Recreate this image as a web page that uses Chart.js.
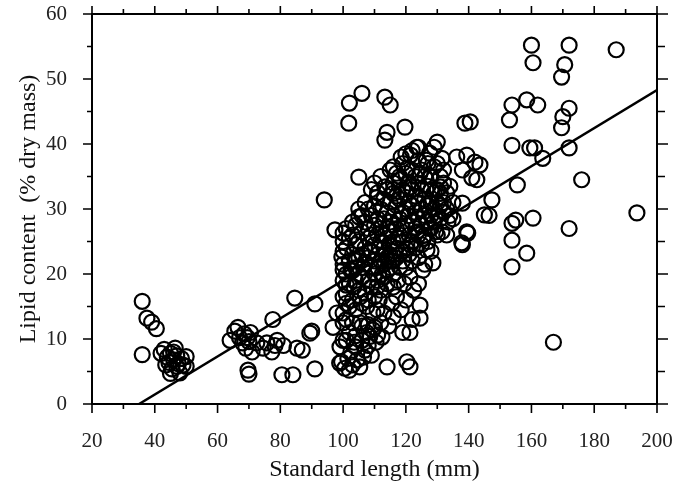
<!DOCTYPE html>
<html>
<head>
<meta charset="utf-8">
<script src="https://cdn.jsdelivr.net/npm/chart.js@4.4.1/dist/chart.umd.min.js"></script>
<style>
  html, body { margin: 0; padding: 0; background: #fff; }
</style>
</head>
<body>
<canvas id="chart" width="682" height="497"></canvas>
<script>
// Fish [standard length (mm), lipid content (% dry mass)]
const smallFish = [
  [36, 15.8], [37.5, 13.2], [39, 12.6], [40.5, 11.6], [36, 7.6], [42, 7.8],
  [43, 8.4], [44, 7.2], [44.5, 6.4], [45, 7.8], [45.5, 5.4], [46, 6.8],
  [46.5, 8.6], [47, 7.4], [47.5, 6.2], [48, 4.8], [48.5, 7.0], [49, 6.0],
  [50, 7.3], [50, 5.8], [43.5, 6.0], [45, 4.7], [46, 8.0], [47, 5.8]
];

const midFish = [
  [64, 9.8], [65.5, 11.2], [66.5, 11.8], [67, 10.2], [68, 9.4], [68.5, 10.8],
  [69, 8.6], [69.5, 10.2], [70, 9.6], [70.5, 11], [71, 8], [69.7, 5.2],
  [70, 4.6], [72.5, 9.4], [74.5, 8.6], [75.7, 9.4], [77.3, 8], [77.6, 13],
  [78.3, 9], [79, 9.8], [80.5, 4.5], [81, 9], [84, 4.5], [84.6, 16.3],
  [85.3, 8.6], [87, 8.3], [89.4, 10.9], [90, 11.2], [91, 15.4], [91, 5.4],
  [94, 31.4], [96.8, 11.8], [98, 14]
];

const clusterUpper = [
  [101.8, 43.2], [102, 46.3], [106, 47.8], [113.3, 47.2], [115, 46], [114, 41.8],
  [113.3, 40.6], [119.7, 42.6], [105, 34.9], [115, 36], [123.5, 39.5], [130, 40.3],
  [121.5, 38.3], [120.5, 36.3], [127.6, 38.6], [136.2, 38], [138.8, 43.2], [140.5, 43.4],
  [113.3, 33.4], [131.5, 37.8], [132, 36], [124.5, 35.5], [127.6, 35], [121.5, 33.4],
  [116, 33], [111, 32.5], [118, 34.5], [131, 33.4], [138, 36], [139.4, 38.3],
  [142, 37.2], [143.6, 36.8], [142.6, 34.5], [110.8, 31.8], [116, 32.4], [131, 32.4],
  [133.4, 28], [138, 30.9], [137.8, 24.8], [139.4, 26.5], [126.7, 23.7], [128.6, 21.7],
  [125.4, 20.6], [121.3, 19.5], [116, 18], [110.8, 18], [105, 28.8], [100, 26.3],
  [99.6, 22.6], [100, 20.6], [101, 18.3], [97.4, 26.8]
];

const clusterLower = [
  [101, 15.5], [101, 9.8], [98.9, 6.3], [102, 5.2], [105.3, 5.7], [107, 8.3],
  [112.4, 10.3], [109.5, 11.4], [114, 5.7], [120.3, 6.5], [121.3, 5.7], [121.3, 11],
  [119, 11], [124.5, 15.2], [124.5, 13.2], [122, 13], [116, 13.4], [110.8, 14.5],
  [105.3, 12.5], [100, 12.5], [99, 8.8], [104, 8.8], [100, 9.8], [106, 9.8],
  [107.5, 11], [108.5, 10.4], [110, 11.8], [111, 10.6], [108, 12.2], [103, 6],
  [99.5, 6.5], [100.5, 5.5], [101.5, 7], [102.5, 8], [103.5, 9.5], [104.5, 6.8],
  [106.5, 7.2], [108, 9], [109, 7.5], [110.5, 9.5], [112, 12.5], [113, 14],
  [114.5, 12], [115.5, 15.5], [117, 16.5], [118.5, 14.5], [120, 16], [122.5, 17.5],
  [124, 18.5], [119.5, 18.5], [117.5, 19], [111.5, 16], [109.5, 14], [107.5, 15],
  [105.5, 16.5], [103.5, 18]
];

const clusterCore = [
  [100, 23.5], [100, 25], [100, 16.5], [100, 14], [100, 21.5], [100, 19],
  [101, 24], [101, 27], [101, 20], [101, 17], [101, 13],
  [102, 22], [102, 25.5], [102, 18.5], [102, 15], [102, 11],
  [103, 23], [103, 26], [103, 20.5], [103, 16], [103, 12.5], [103, 28],
  [104, 21], [104, 24.5], [104, 19], [104, 14.5], [104, 27.5], [104, 10.5],
  [105, 22.5], [105, 25], [105, 17.5], [105, 30], [105, 20],
  [106, 23], [106, 26.5], [106, 19.5], [106, 15.5], [106, 29], [106, 12],
  [107, 21.5], [107, 24], [107, 28], [107, 17], [107, 31],
  [108, 22.5], [108, 25.5], [108, 19], [108, 27], [108, 16], [108, 30],
  [109, 23.5], [109, 21], [109, 26], [109, 29], [109, 18], [109, 33],
  [110, 22], [110, 24.5], [110, 27.5], [110, 20], [110, 30.5], [110, 16.5], [110, 34],
  [111, 23], [111, 26], [111, 28.5], [111, 21], [111, 19],
  [112, 22], [112, 25], [112, 27], [112, 30], [112, 17.5], [112, 35],
  [113, 24], [113, 21.5], [113, 28.5], [113, 31.5], [113, 26], [113, 19.5],
  [114, 22.5], [114, 25.5], [114, 29.5], [114, 33], [114, 20.5], [114, 27],
  [115, 23], [115, 26.5], [115, 31], [115, 21], [115, 28], [115, 24.5],
  [116, 22], [116, 25], [116, 29], [116, 34], [116, 27.5], [116, 20], [116, 36.5],
  [117, 24], [117, 27], [117, 30.5], [117, 22.5], [117, 32],
  [118, 23], [118, 26], [118, 28.5], [118, 31.5], [118, 21], [118, 35],
  [119, 25], [119, 29.5], [119, 33], [119, 27], [119, 22], [119, 37],
  [120, 24], [120, 27.5], [120, 30], [120, 32.5], [120, 21], [120, 35.5], [120, 38.5],
  [121, 26], [121, 29], [121, 23], [121, 31], [121, 34],
  [122, 25], [122, 28], [122, 30.5], [122, 33], [122, 22], [122, 36], [122, 39],
  [123, 27], [123, 29.5], [123, 24], [123, 32], [123, 35],
  [124, 26], [124, 28.5], [124, 31], [124, 22.5], [124, 34], [124, 37.5],
  [125, 27.5], [125, 30], [125, 24.5], [125, 33], [125, 36],
  [126, 26], [126, 29], [126, 31.5], [126, 21.5], [126, 35],
  [127, 28], [127, 30.5], [127, 25], [127, 33.5], [127, 37],
  [128, 27], [128, 31], [128, 29], [128, 35], [128, 23.5],
  [129, 30], [129, 32.5], [129, 28], [129, 36.5], [129, 39.5],
  [130, 29], [130, 33], [130, 31], [130, 26], [130, 37],
  [131, 30.5], [131, 28.5], [131, 35], [132, 31], [132, 29.5], [132, 34],
  [133, 32.5], [133, 30], [134, 29], [134, 33.5], [135, 31], [135, 28.5],
  [102.5, 20.5], [104, 22], [106.5, 21], [108.5, 23.5], [111.5, 24], [113.5, 23],
  [115.5, 22], [117.5, 25.5], [112.5, 20], [114, 18.5], [116.5, 23.5], [119, 23.5],
  [121.5, 24.5], [123.5, 26.5], [125.5, 25.5], [127.5, 27], [129.5, 26.5], [131.5, 26.5],
  [133, 26], [128, 33], [126.5, 37.5], [124, 39.5], [118.5, 38], [117, 35.5]
];

const largeFish = [
  [160, 55.2], [172, 55.2], [187, 54.5], [160.5, 52.5], [170.6, 52.2], [169.6, 50.3],
  [153.8, 46], [158.5, 46.8], [162, 46], [172, 45.5], [170, 44.2], [169.6, 42.5],
  [153, 43.7], [153.8, 39.8], [159.5, 39.4], [161, 39.4], [163.6, 37.8], [172, 39.4],
  [176, 34.5], [155.5, 33.7], [147.4, 31.4], [193.6, 29.4], [145, 29.1], [146.5, 29],
  [153.8, 27.8], [155, 28.3], [160.5, 28.6], [172, 27], [153.8, 25.2], [158.5, 23.2],
  [153.8, 21.1], [167, 9.5], [139.7, 26.3], [138, 24.5], [141, 34.8]
];

// Fitted regression line end points
const fitLength = [35, 200];
const fitLipid = [0, 48.3];

const xTicks = [20, 40, 60, 80, 100, 120, 140, 160, 180, 200];
const yTicks = [0, 10, 20, 30, 40, 50, 60];

const allFish = [].concat(smallFish, midFish, clusterUpper, clusterLower, clusterCore, largeFish);
const fishPoints = allFish.map((p) => ({ x: p[0], y: p[1] }));
const fitPoints = fitLength.map((x, i) => ({ x: x, y: fitLipid[i] }));

const serif = "'Liberation Serif', 'DejaVu Serif', serif";

// Draws the top/right frame lines and the outward major/minor ticks on all sides
const framePlugin = {
  id: "frame",
  afterDraw(chart) {
    const { ctx, chartArea: a, scales } = chart;
    ctx.save();
    ctx.strokeStyle = "#000";
    ctx.lineWidth = 2;
    ctx.beginPath();
    ctx.moveTo(a.left, a.top);
    ctx.lineTo(a.right, a.top);
    ctx.lineTo(a.right, a.bottom);
    ctx.stroke();

    ctx.lineWidth = 1.6;
    ctx.beginPath();
    for (let v = 20; v <= 200; v += 10) {
      const px = scales.x.getPixelForValue(v);
      const major = v % 20 === 0;
      ctx.moveTo(px, a.bottom);
      ctx.lineTo(px, a.bottom + (major ? 9 : 5));
      ctx.moveTo(px, a.top);
      ctx.lineTo(px, a.top - (major ? 8 : 5));
    }
    for (let v = 0; v <= 60; v += 5) {
      const py = scales.y.getPixelForValue(v);
      const major = v % 10 === 0;
      ctx.moveTo(a.left, py);
      ctx.lineTo(a.left - (major ? 9 : 5), py);
      ctx.moveTo(a.right, py);
      ctx.lineTo(a.right + (major ? 11 : 8), py);
    }
    ctx.stroke();
    ctx.restore();
  },
};

const chart = new Chart(document.getElementById("chart"), {
  type: "scatter",
  data: {
    datasets: [
      {
        label: "Fish",
        data: fishPoints,
        pointRadius: 7.5,
        pointBorderWidth: 2.2,
        pointBorderColor: "#000",
        pointBackgroundColor: "rgba(0,0,0,0)",
        pointHoverRadius: 7.5,
      },
      {
        label: "Regression",
        data: fitPoints,
        showLine: true,
        borderColor: "#000",
        borderWidth: 2.5,
        pointRadius: 0,
      },
    ],
  },
  options: {
    responsive: false,
    devicePixelRatio: 1,
    animation: false,
    layout: { padding: { top: 14, right: 25, left: 0, bottom: 0 } },
    plugins: {
      legend: { display: false },
      tooltip: { enabled: false },
    },
    scales: {
      x: {
        type: "linear",
        min: 20,
        max: 200,
        afterBuildTicks: (scale) => {
          scale.ticks = xTicks.map((v) => ({ value: v }));
        },
        afterFit: (scale) => {
          scale.height = 93;
          scale.paddingLeft = 0;
          scale.paddingRight = 0;
        },
        grid: { display: false },
        border: { display: true, color: "#000", width: 2 },
        ticks: {
          color: "#222",
          font: { family: serif, size: 21 },
          padding: 17,
          maxRotation: 0,
        },
        title: {
          display: true,
          text: "Standard length (mm)",
          color: "#111",
          font: { family: serif, size: 24 },
          padding: { top: 0, bottom: 13 },
        },
      },
      y: {
        type: "linear",
        min: 0,
        max: 60,
        afterBuildTicks: (scale) => {
          scale.ticks = yTicks.map((v) => ({ value: v }));
        },
        afterFit: (scale) => {
          scale.width = 92;
          scale.paddingTop = 0;
          scale.paddingBottom = 0;
        },
        grid: { display: false },
        border: { display: true, color: "#000", width: 2 },
        ticks: {
          color: "#222",
          font: { family: serif, size: 21 },
          padding: 17,
        },
        title: {
          display: true,
          text: "Lipid content  (% dry mass)",
          color: "#111",
          font: { family: serif, size: 24 },
          padding: { top: 14, bottom: 0 },
        },
      },
    },
  },
  plugins: [framePlugin],
});
</script>
</body>
</html>
